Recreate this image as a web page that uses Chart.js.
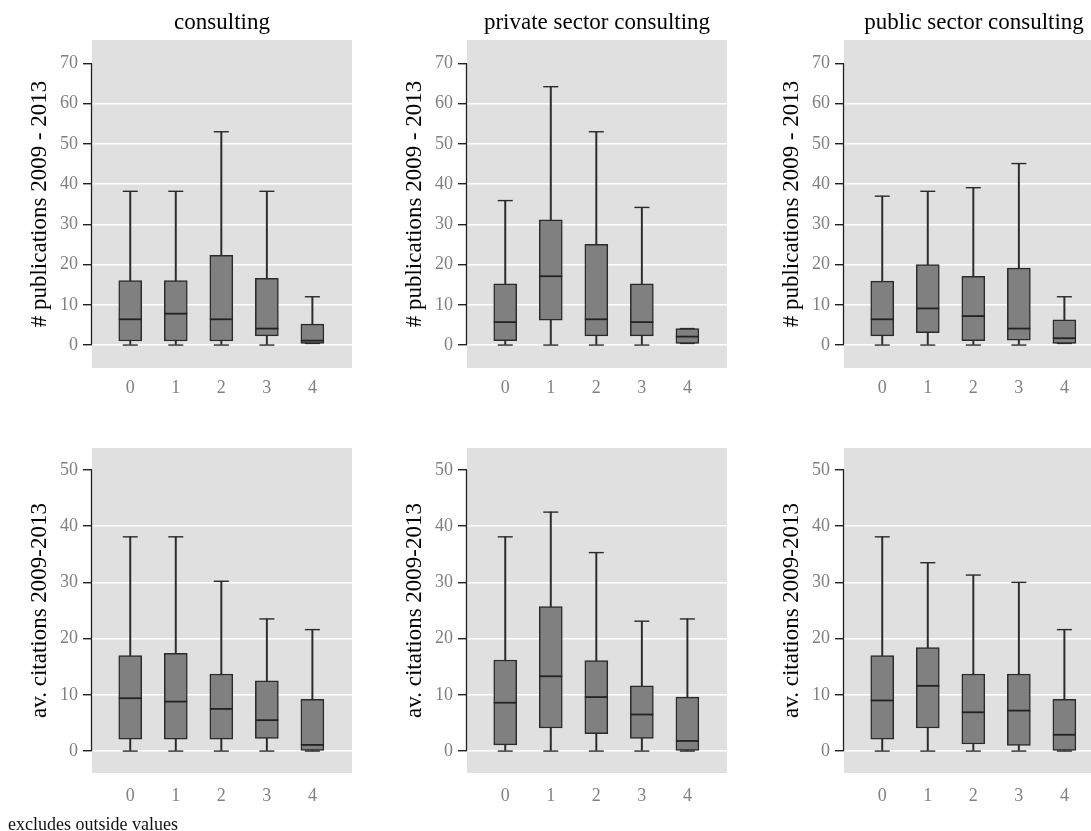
<!DOCTYPE html>
<html lang="en">

<head>
    <meta charset="UTF-8">
    <title>Publications and citations by consulting</title>
    <script src="https://cdn.jsdelivr.net/npm/chart.js"></script>
    <style>
        body {
            margin: 0;
            width: 1091px;
            height: 831px;
            overflow: hidden;
            background: #fff;
            position: relative;
            font-family: "Liberation Serif", "DejaVu Serif", serif;
        }

        canvas {
            position: absolute;
        }

        .nota {
            position: absolute;
            left: 8px;
            top: 814px;
            font-size: 18px;
            color: #111;
        }
    </style>
</head>

<body>
    <canvas id="g0" width="352" height="410" style="left:0px;top:0px"></canvas>
    <canvas id="g1" width="352" height="410" style="left:375px;top:0px"></canvas>
    <canvas id="g2" width="352" height="410" style="left:752px;top:0px"></canvas>
    <canvas id="g3" width="352" height="410" style="left:0px;top:410px"></canvas>
    <canvas id="g4" width="352" height="410" style="left:375px;top:410px"></canvas>
    <canvas id="g5" width="352" height="410" style="left:752px;top:410px"></canvas>
    <div class="nota">excludes outside values</div>
</body>

<script>
    // categorias no eixo x
    const categorias = ['0', '1', '2', '3', '4'];
    const titulos = ['consulting', 'private sector consulting', 'public sector consulting'];
    const tituloPub = '# publications 2009 - 2013';
    const tituloCit = 'av. citations 2009-2013';
    const ticksPub = [0, 10, 20, 30, 40, 50, 60, 70];
    const ticksCit = [0, 10, 20, 30, 40, 50];

    // cada linha: [min, q1, mediana, q3, max] (sem valores externos)
    const pubConsulting = [[0, 1, 6.4, 16, 38.2], [0, 1, 7.8, 16, 38.2], [0, 1, 6.4, 22.3, 53], [0, 2.3, 4.1, 16.6, 38.2], [0.4, 0.4, 1.1, 5.2, 12]];
    const pubPrivado = [[0, 1.1, 5.7, 15.2, 35.9], [0, 6.2, 17.1, 31.1, 64.2], [0, 2.3, 6.4, 25, 53], [0, 2.3, 5.7, 15.2, 34.2], [0.4, 0.4, 2.1, 4.1, 4.1]];
    const pubPublico = [[0, 2.3, 6.4, 15.9, 37], [0, 3.1, 9.1, 20, 38.2], [0, 1.1, 7.2, 17.1, 39.1], [0, 1.2, 4.1, 19.1, 45.1], [0.4, 0.4, 1.7, 6.3, 12]];
    const citConsulting = [[0, 2.1, 9.4, 17, 38.1], [0, 2.1, 8.8, 17.4, 38.1], [0, 2.1, 7.5, 13.7, 30.2], [0, 2.25, 5.5, 12.5, 23.5], [0, 0, 1.1, 9.2, 21.6]];
    const citPrivado = [[0, 1.1, 8.6, 16.2, 38.1], [0, 4.1, 13.3, 25.7, 42.5], [0, 3.1, 9.6, 16.1, 35.3], [0, 2.25, 6.5, 11.6, 23.1], [0, 0, 1.8, 9.6, 23.5]];
    const citPublico = [[0, 2.1, 9, 17, 38.1], [0, 4.1, 11.6, 18.4, 33.5], [0, 1.25, 6.9, 13.7, 31.3], [0, 1, 7.2, 13.7, 30], [0, 0, 2.9, 9.2, 21.6]];

    const FONTE = '"Liberation Serif", "DejaVu Serif", serif';

    // fundo cinza da area do grafico + linha do eixo y so entre o primeiro e o ultimo tick
    const fundoPlugin = {
        id: 'fundo',
        beforeDraw(chart) {
            const a = chart.chartArea;
            const ctx = chart.ctx;
            ctx.save();
            ctx.fillStyle = '#e0e0e0';
            ctx.fillRect(a.left, a.top, a.right - a.left, a.bottom - a.top);
            ctx.restore();
        },
        afterDraw(chart) {
            const y = chart.scales.y;
            const ticks = y.ticks;
            const ctx = chart.ctx;
            ctx.save();
            ctx.strokeStyle = '#222';
            ctx.lineWidth = 1.3;
            ctx.beginPath();
            ctx.moveTo(chart.chartArea.left - 0.5, y.getPixelForValue(ticks[0].value));
            ctx.lineTo(chart.chartArea.left - 0.5, y.getPixelForValue(ticks[ticks.length - 1].value));
            ctx.stroke();
            ctx.restore();
        }
    };

    function criarBoxplot(id, dados, titulo, tituloY, ticks, yMin, yMax) {
        const topo = titulo !== null;
        const hastes = dados.map((d, i) => ({ x: i, y: [d[0], d[4]] }));
        const caixas = dados.map((d, i) => ({ x: i, y: [d[1], d[3]] }));
        const medianas = dados.map((d, i) => ({ x: i, y: d[2] }));
        const pontas = [];
        dados.forEach((d, i) => {
            pontas.push({ x: i, y: d[0] });
            pontas.push({ x: i, y: d[4] });
        });

        return new Chart(document.getElementById(id), {
            type: 'bar',
            data: {
                datasets: [
                    {
                        type: 'scatter',
                        data: medianas,
                        pointStyle: 'line',
                        radius: 11.5,
                        borderWidth: 1.8,
                        borderColor: '#222',
                        order: 0
                    },
                    {
                        data: caixas,
                        backgroundColor: '#808080',
                        borderColor: '#2a2a2a',
                        borderWidth: 1.5,
                        borderSkipped: false,
                        barThickness: 23,
                        grouped: false,
                        order: 1
                    },
                    {
                        type: 'scatter',
                        data: pontas,
                        pointStyle: 'line',
                        radius: 7.5,
                        borderWidth: 1.4,
                        borderColor: '#2a2a2a',
                        order: 2
                    },
                    {
                        data: hastes,
                        backgroundColor: '#2a2a2a',
                        borderWidth: 0,
                        barThickness: 1.3,
                        grouped: false,
                        order: 3
                    }
                ]
            },
            options: {
                responsive: false,
                animation: false,
                devicePixelRatio: 1,
                layout: {
                    autoPadding: false,
                    padding: { left: 0, right: 0, top: topo ? 0 : 38, bottom: 0 }
                },
                plugins: {
                    legend: { display: false },
                    tooltip: { enabled: false },
                    title: {
                        display: topo,
                        fullSize: false,
                        text: titulo || '',
                        color: '#000',
                        font: { family: FONTE, size: 23, weight: 'normal', lineHeight: 1.2 },
                        padding: { top: 9, bottom: 3.4 }
                    }
                },
                scales: {
                    x: {
                        type: 'linear',
                        offset: false,
                        min: -0.84,
                        max: 4.87,
                        afterBuildTicks: (s) => { s.ticks = categorias.map((c, i) => ({ value: i })); },
                        afterFit: (s) => { s.height = topo ? 42 : 47; },
                        grid: { display: false, offset: false },
                        border: { display: false },
                        ticks: {
                            callback: (v) => categorias[v],
                            color: '#808080',
                            padding: topo ? 1 : 4,
                            font: { family: FONTE, size: 18 }
                        }
                    },
                    y: {
                        min: yMin,
                        max: yMax,
                        afterBuildTicks: (s) => { s.ticks = ticks.map((v) => ({ value: v })); },
                        afterFit: (s) => { s.width = 92; },
                        border: { display: false },
                        grid: {
                            color: (c) => c.tick && c.tick.value === ticks[ticks.length - 1] ? 'rgba(0,0,0,0)' : '#ffffff',
                            lineWidth: 1.4,
                            tickColor: '#222',
                            tickLength: 9
                        },
                        ticks: {
                            color: '#808080',
                            padding: 5,
                            font: { family: FONTE, size: 18 }
                        },
                        title: {
                            display: true,
                            text: tituloY,
                            color: '#000',
                            font: { family: FONTE, size: 23, lineHeight: 1.2 },
                            padding: { top: 26, bottom: 0 }
                        }
                    }
                }
            },
            plugins: [fundoPlugin]
        });
    }

    criarBoxplot('g0', pubConsulting, titulos[0], tituloPub, ticksPub, -5.7, 75.8);
    criarBoxplot('g1', pubPrivado, titulos[1], tituloPub, ticksPub, -5.7, 75.8);
    criarBoxplot('g2', pubPublico, titulos[2], tituloPub, ticksPub, -5.7, 75.8);
    criarBoxplot('g3', citConsulting, null, tituloCit, ticksCit, -3.9, 53.9);
    criarBoxplot('g4', citPrivado, null, tituloCit, ticksCit, -3.9, 53.9);
    criarBoxplot('g5', citPublico, null, tituloCit, ticksCit, -3.9, 53.9);
</script>

</html>
